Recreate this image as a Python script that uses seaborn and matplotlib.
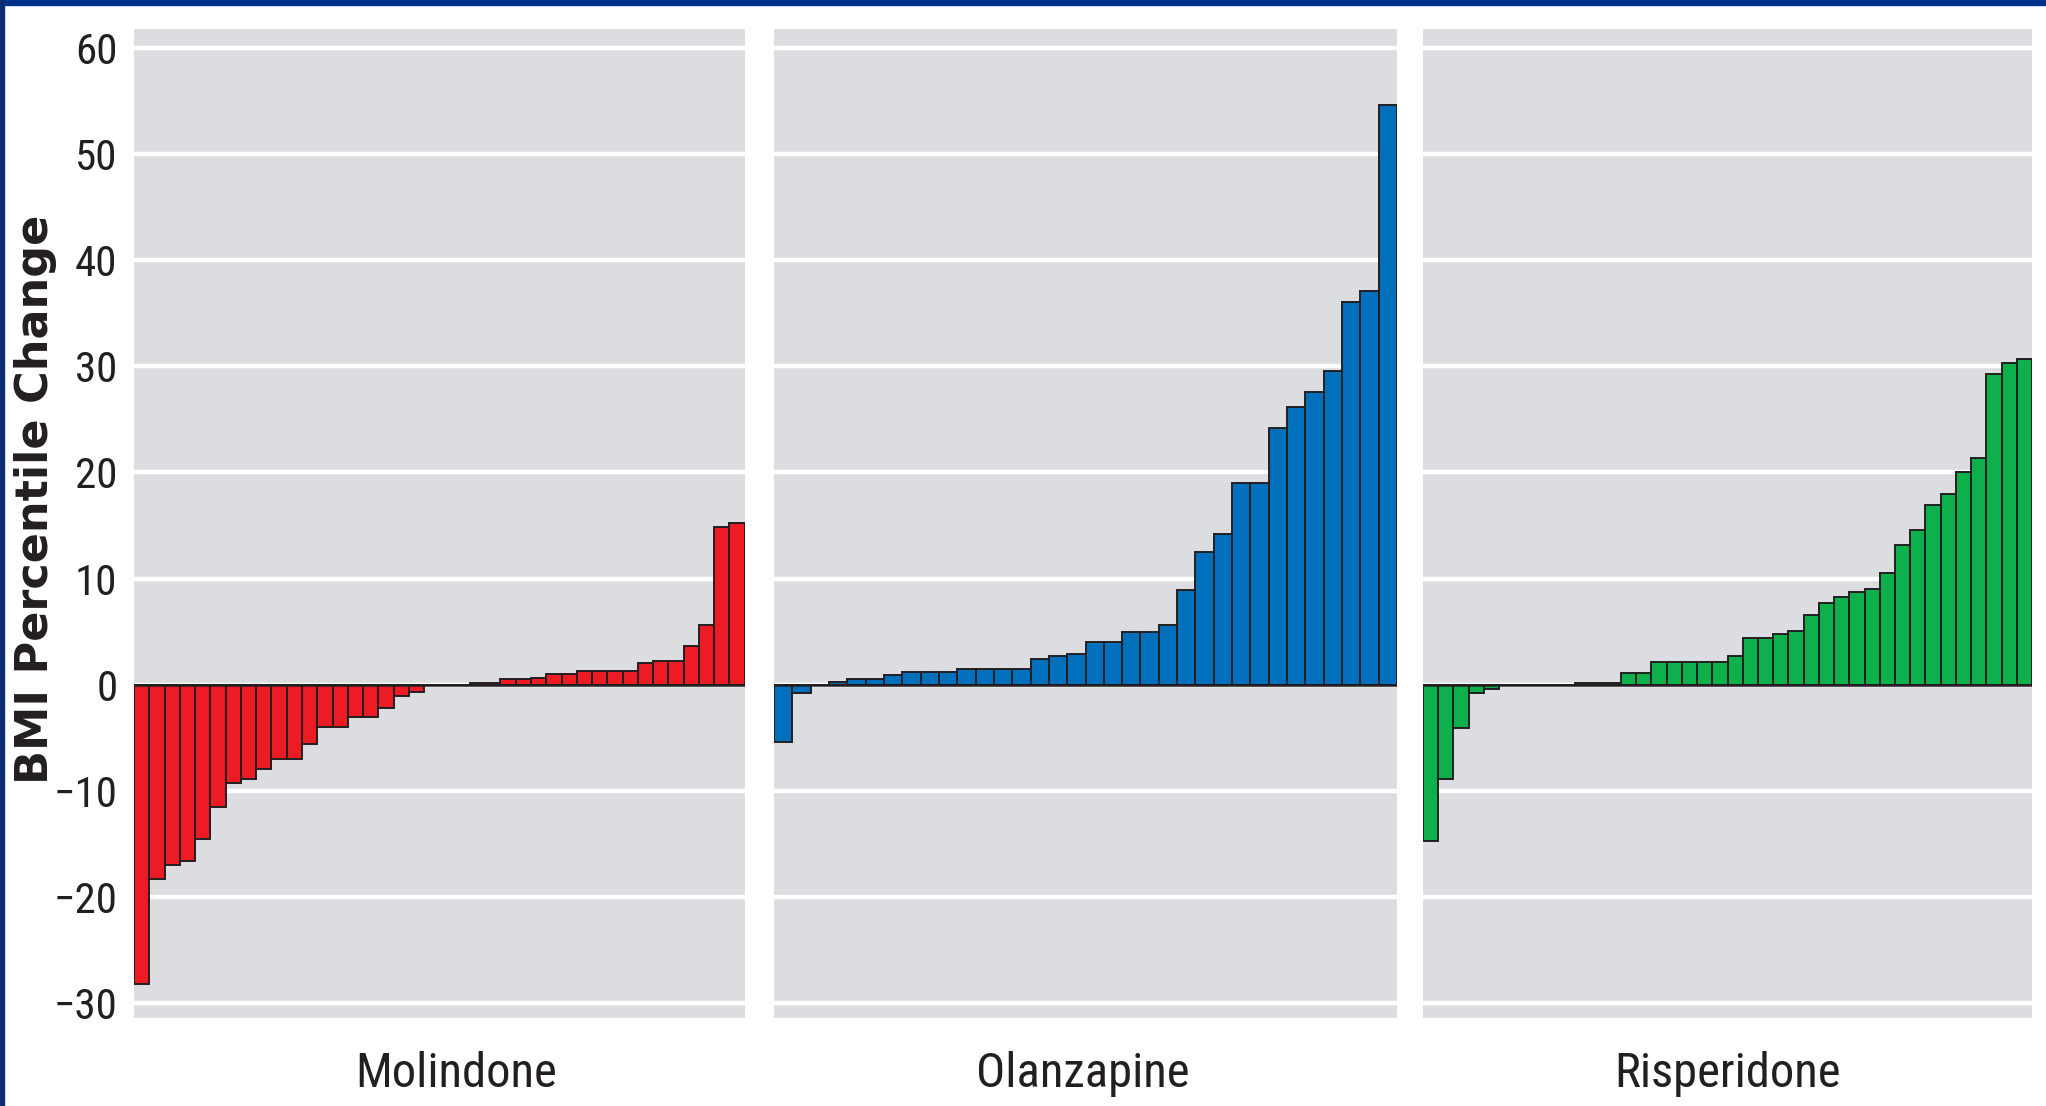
import numpy as np
import pandas as pd
import matplotlib
matplotlib.use("Agg")
import matplotlib.pyplot as plt
import seaborn as sns
from matplotlib.patches import Rectangle
from matplotlib import font_manager

# BMI percentile change per subject, sorted ascending within each drug
drugs = ["Molindone", "Olanzapine", "Risperidone"]
colors = ["#ed1c24", "#0070bd", "#0db14b"]

molindone = [-28.2, -18.3, -17.0, -16.6, -14.5, -11.5, -9.3, -8.9, -7.9, -7.0,
             -7.0, -5.6, -4.0, -4.0, -3.0, -3.0, -2.2, -1.1, -0.7, 0.0,
             0.0, 0.0, 0.2, 0.2, 0.5, 0.5, 0.6, 1.0, 1.0, 1.3,
             1.3, 1.3, 1.3, 2.0, 2.2, 2.2, 3.6, 5.6, 14.9, 15.2]
olanzapine = [-5.4, -0.8, 0.0, 0.3, 0.5, 0.5, 0.9, 1.2, 1.2, 1.2,
              1.5, 1.5, 1.5, 1.5, 2.4, 2.7, 2.9, 4.0, 4.0, 5.0,
              5.0, 5.6, 8.9, 12.5, 14.2, 19.0, 19.0, 24.2, 26.2, 27.6,
              29.6, 36.1, 37.1, 54.6]
risperidone = [-14.7, -8.9, -4.1, -0.8, -0.4, 0.0, 0.0, 0.0, 0.0, 0.0,
               0.2, 0.2, 0.2, 1.1, 1.1, 2.1, 2.1, 2.1, 2.1, 2.1,
               2.7, 4.4, 4.4, 4.8, 5.1, 6.6, 7.7, 8.3, 8.7, 9.0,
               10.5, 13.2, 14.6, 16.9, 18.0, 20.0, 21.4, 29.3, 30.3, 30.7]

y_ticks = [-30, -20, -10, 0, 10, 20, 30, 40, 50, 60]
y_label = "BMI Percentile Change"

EDGE = "#231f20"
PANEL_BG = "#dcdde0"

# look for a condensed face among the installed fonts
names = {f.name for f in font_manager.fontManager.ttflist}
condensed = [n for n in ["Liberation Sans Narrow", "Roboto Condensed",
                         "Open Sans Condensed", "DejaVu Sans Condensed"] if n in names]
NARROW = condensed[:1] + ["DejaVu Sans"]

sns.set_theme(style="darkgrid", rc={
    "axes.facecolor": PANEL_BG,
    "grid.color": "white",
    "grid.linewidth": 3.2,
})
plt.rcParams["font.family"] = NARROW
plt.rcParams["font.stretch"] = "condensed"
plt.rcParams["axes.unicode_minus"] = True

fig = plt.figure(figsize=(20.46, 11.06), dpi=100)
fig.patch.set_facecolor("white")

# panel boxes in figure fractions (left, width); label x offset inside the panel
bottom, top = 0.0796, 0.974
panel_x = [(0.0655, 0.2985), (0.3783, 0.3045), (0.6955, 0.2977)]
label_x = [0.528, 0.495, 0.5]

series = [molindone, olanzapine, risperidone]

for i, (name, vals, col) in enumerate(zip(drugs, series, colors)):
    ax = fig.add_axes([panel_x[i][0], bottom, panel_x[i][1], top - bottom])
    df = pd.DataFrame({"subject": np.arange(len(vals)), "change": vals})
    sns.barplot(data=df, x="subject", y="change", color=col, width=1.0,
                edgecolor=EDGE, linewidth=1.4, saturation=1, ax=ax, zorder=3)
    ax.axhline(0, color=EDGE, lw=1.8, zorder=4)

    ax.set_xlim(-0.5, len(vals) - 0.5)
    ax.set_ylim(-31.4, 61.8)
    ax.set_yticks(y_ticks)
    ax.xaxis.grid(False)
    ax.yaxis.grid(True)
    ax.set_axisbelow(True)
    ax.set_xticks([])
    ax.tick_params(axis="y", length=0, pad=12)
    for s in ax.spines.values():
        s.set_visible(False)

    ax.set_xlabel(name, fontsize=35, color="#231f20")
    ax.xaxis.set_label_coords(label_x[i], -0.057)
    ax.xaxis.label.set_va("center")
    ax.set_ylabel("")
    if i == 0:
        ax.set_yticklabels([str(t).replace("-", "\u2212") for t in y_ticks],
                           fontsize=31, color="#231f20")
    else:
        ax.set_yticklabels([])

fig.text(0.0175, 1 - 499 / 1106, y_label, rotation=90, ha="center", va="center",
         fontsize=32, fontweight="bold", family=["DejaVu Sans"], stretch="normal",
         color="#231f20")

# slide frame: navy strips on the top and left edges
fig.patches.append(Rectangle((0, 0.9955), 1, 0.0045, transform=fig.transFigure,
                             color="#00338d", zorder=10))
fig.patches.append(Rectangle((0, 0), 0.002, 1, transform=fig.transFigure,
                             color="#0a2d72", zorder=10))

fig.savefig("out.png", dpi=100)
plt.close(fig)
